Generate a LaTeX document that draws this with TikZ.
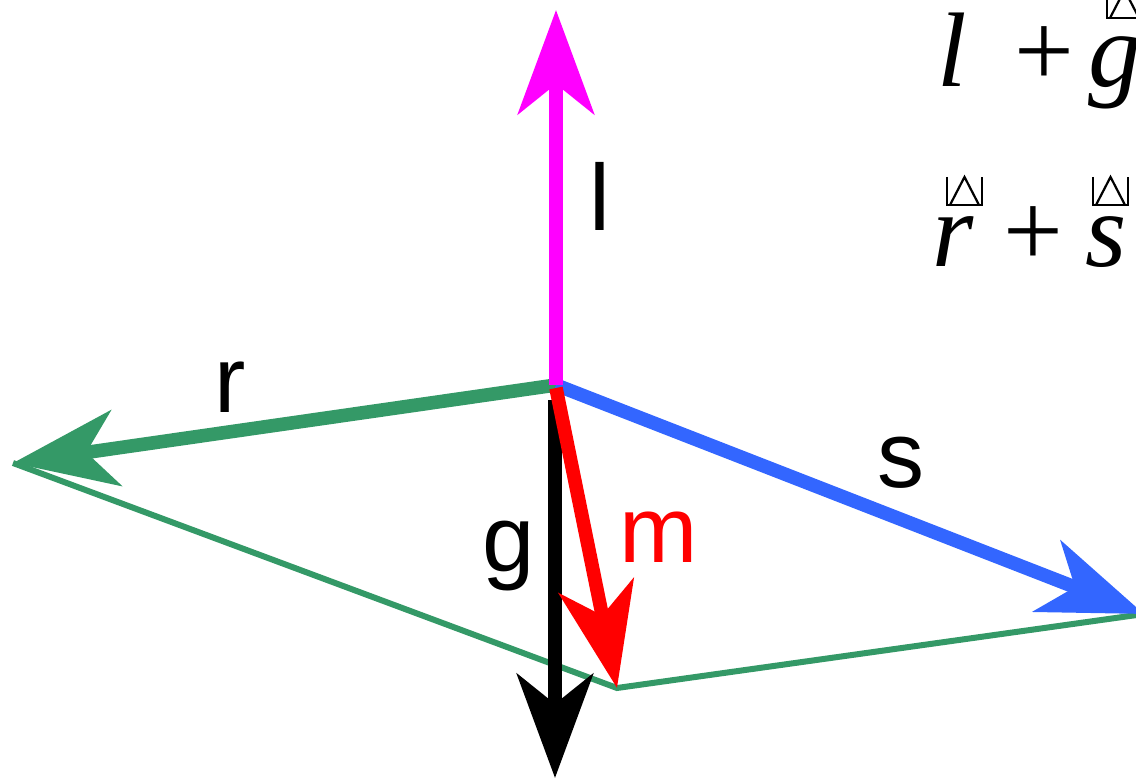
\documentclass[tikz,border=0pt]{standalone}
\usepackage{fontspec}
\usepackage{xcolor}
\usetikzlibrary{arrows.meta}
\newfontfamily\lblfont{Liberation Sans}
\newfontfamily\eqfont{Liberation Serif}
\definecolor{vecgreen}{RGB}{52,153,103}
\definecolor{vecblue}{RGB}{51,102,255}
\definecolor{vecmagenta}{RGB}{255,0,255}
\definecolor{vecred}{RGB}{255,0,0}
\tikzset{
  vec/.style={line width=6.8pt, -{Stealth[length=52pt, width=38pt, inset=15pt]}},
  lbl/.style={anchor=base, font=\lblfont\fontsize{47}{54}\selectfont},
  eq/.style={anchor=base west, inner sep=0pt, font=\eqfont\fontsize{53}{60}\selectfont},
  notdef/.pic={
    \draw[line width=1.1pt] (0,-28) -- (0,0) -- (35,0) -- (35,-28);
    \draw[line width=1.1pt] (3,0) -- (17.5,-28) -- (32,0);
  }
}
\begin{document}
\begin{tikzpicture}[x=0.5pt, y=-0.5pt]
\useasboundingbox (0,0) rectangle (1136,779);

% points
\coordinate (O) at (556,385);
\coordinate (ltip) at (556,10);
\coordinate (gtop) at (555,400);
\coordinate (gtip) at (555,778);
\coordinate (rtip) at (13,463);
\coordinate (stip) at (1144,614);
\coordinate (mtop) at (556,388);
\coordinate (mtip) at (617,688);

% sum of r and s
\draw[vecgreen, line width=3pt, line join=miter] (rtip) -- (mtip) -- (stip);

% vectors
\draw[vec, black] (gtop) -- (gtip);
\draw[vec, vecgreen] (O) -- (rtip);
\draw[vec, vecblue] (O) -- (stip);
\draw[vec, vecmagenta] (O) -- (ltip);
\draw[vec, vecred] (mtop) -- (mtip);

% labels
\node[lbl] (llbl) at (600,231) {l};
\node[lbl] (rlbl) at (230,413) {r};
\node[lbl] (slbl) at (901,488) {s};
\node[lbl] (glbl) at (509,572) {g};
\node[lbl, vecred] (mlbl) at (659,563) {m};

% equations
\node[eq] (eqtop) at (937,87) {\itshape l\hspace{24pt}\upshape+\hspace{7pt}\itshape g};
\node[eq] (eqbot) at (932,267) {\itshape r\hspace{15pt}\upshape+\hspace{11pt}\itshape s};
\pic at (947,205) {notdef};
\pic at (1093,205) {notdef};
\pic at (1107,18) {notdef};
\end{tikzpicture}
\end{document}
